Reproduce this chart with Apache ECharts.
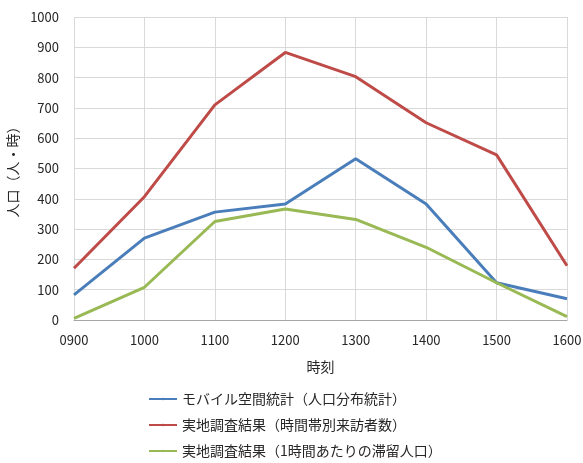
<!DOCTYPE html>
<html><head><meta charset="utf-8">
<script src="https://cdn.jsdelivr.net/npm/echarts@6/dist/echarts.min.js"></script>
<style>html,body{margin:0;padding:0;background:#fff}#c{width:583px;height:463px}</style>
</head><body><div id="c"></div>
<script>
const categories = ['0900','1000','1100','1200','1300','1400','1500','1600'];
const mobile = [83, 270, 356, 383, 532, 383, 123, 70];
const visitors = [171, 407, 710, 883, 803, 651, 545, 179];
const staying = [5, 108, 325, 366, 332, 240, 123, 11];
const seriesNames = ['モバイル空間統計（人口分布統計）','実地調査結果（時間帯別来訪者数）','実地調査結果（1時間あたりの滞留人口）'];
const colors = ['#4a7ebb','#be4b48','#98b954'];
const font = '"Noto Sans CJK JP", sans-serif';
const chart = echarts.init(document.getElementById('c'));
chart.setOption({
  animation:false,
  textStyle:{fontFamily:font},
  grid:{left:74,right:16,top:17,bottom:143,containLabel:false,outerBoundsMode:'none'},
  legend:{orient:'vertical',left:148,top:392,height:90,itemWidth:28,itemHeight:3,itemGap:12,padding:0,
    textStyle:{fontFamily:font,fontSize:14,color:'#262626'},data:seriesNames},
  xAxis:{type:'category',data:categories,boundaryGap:false,
    name:'時刻',nameLocation:'middle',nameGap:40,
    nameTextStyle:{fontFamily:font,fontSize:14,color:'#262626'},
    axisLine:{lineStyle:{color:'#a6a6a6'}},axisTick:{show:false},
    axisLabel:{fontFamily:font,fontSize:13,color:'#262626',margin:14},
    splitLine:{show:true,lineStyle:{color:'#d9d9d9'}}},
  yAxis:{type:'value',min:0,max:1000,interval:100,
    name:'人口（人・時）',nameLocation:'middle',nameGap:51,nameRotate:90,
    nameTextStyle:{fontFamily:font,fontSize:14,color:'#262626'},
    axisLine:{show:false},axisTick:{show:false},
    axisLabel:{fontFamily:font,fontSize:13,color:'#262626',margin:15,formatter:v=>String(v)},
    splitLine:{show:true,lineStyle:{color:'#d9d9d9'}}},
  series:[
    {name:seriesNames[0],type:'line',data:mobile,symbol:'none',lineStyle:{width:3,color:colors[0]},itemStyle:{color:colors[0]}},
    {name:seriesNames[1],type:'line',data:visitors,symbol:'none',lineStyle:{width:3,color:colors[1]},itemStyle:{color:colors[1]}},
    {name:seriesNames[2],type:'line',data:staying,symbol:'none',lineStyle:{width:3,color:colors[2]},itemStyle:{color:colors[2]}}
  ]
});
</script></body></html>
